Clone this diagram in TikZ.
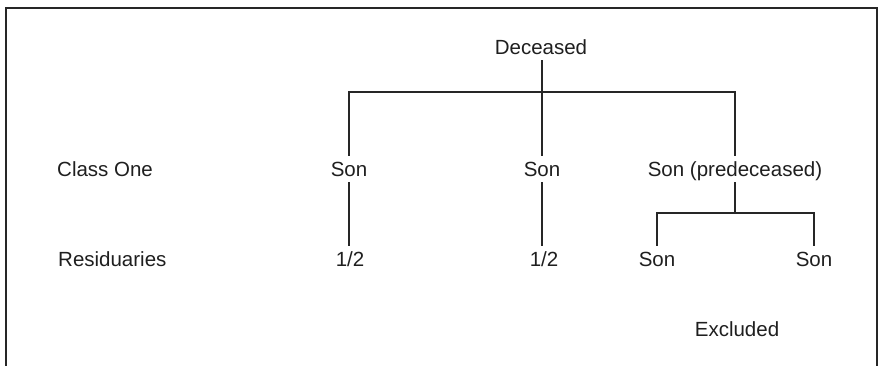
\documentclass[tikz,border=0pt]{standalone}
\usepackage{fontspec}
\setmainfont{Liberation Sans}
\begin{document}
\begin{tikzpicture}[x=1pt,y=-1pt,
  lbl/.style={font=\fontsize{20.5}{24}\selectfont, text=black!88, inner sep=0pt, text height=21pt, text depth=5pt, anchor=base},
  rowlbl/.style={lbl, anchor=base west},
  link/.style={line width=1.5pt, draw=black!85},
  frame/.style={line width=2pt, draw=black!85}]
\useasboundingbox (0,0) rectangle (879,366);
% frame
\draw[frame] (6,366) -- (6,8) -- (877,8) -- (877,366);
% row labels
\node[rowlbl] (c1) at (57,177) {Class One};
\node[rowlbl] (res) at (58,267) {Residuaries};
% tree nodes
\node[lbl] (dec) at (541,55) {Deceased};
\node[lbl] (s1) at (349,177) {Son};
\node[lbl] (s2) at (542,177) {Son};
\node[lbl] (s3) at (735,177) {Son (predeceased)};
\node[lbl] (h1) at (350,267) {1/2};
\node[lbl] (h2) at (544,267) {1/2};
\node[lbl] (g1) at (657,267) {Son};
\node[lbl] (g2) at (814,267) {Son};
\node[lbl] (ex) at (737,337) {Excluded};
% junctions
\coordinate (j1) at (542,92);
\coordinate (j2) at (735,213);
% connectors
\draw[link] (dec.south -| s2) -- (s2.north);
\draw[link] (s1.north) |- (j1) -| (s3.north);
\draw[link] (s1.south) -- (s1.south |- h1.north);
\draw[link] (s2.south) -- (s2.south |- h2.north);
\draw[link] (s3.south) -- (j2);
\draw[link] (g1.north) |- (j2) -| (g2.north);
\end{tikzpicture}
\end{document}
